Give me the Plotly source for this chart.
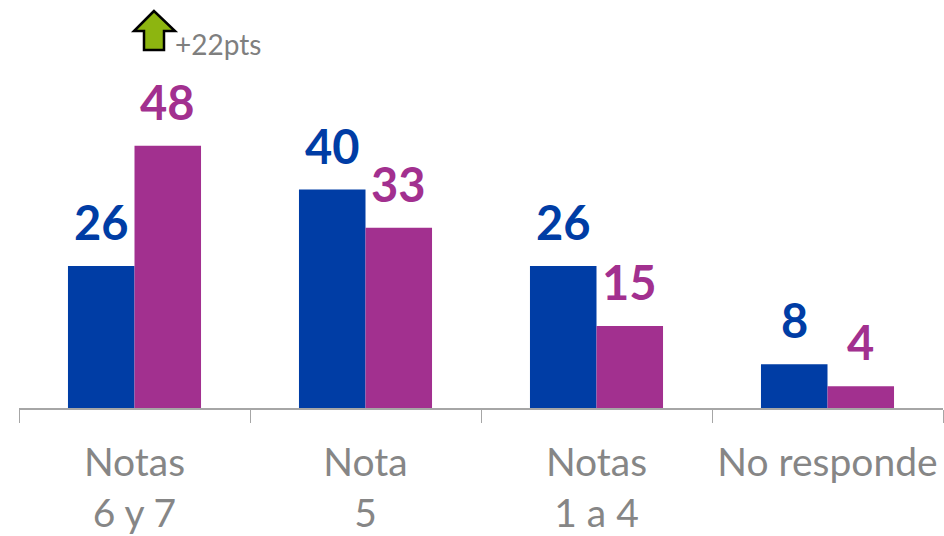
import plotly.graph_objects as go

categories = ["Notas<br>6 y 7", "Nota<br>5", "Notas<br>1 a 4", "No responde"]
series_a = [26, 40, 26, 8]
series_b = [48, 33, 15, 4]
arrow_outline = [(154, 11), (134, 31), (144, 31), (144, 50), (164, 50), (164, 31), (175, 31)]
BLUE = "#003DA5"
PURPLE = "#A2308F"
GREY = "#868686"
W, H = 944, 536
L, R, T, B = 19, 1, 0, 128
BAR_OFFSET = 33
LABEL_LIFT = 14


def px(x):
    return (x - L) / (W - L - R)


def py(y):
    return (H - B - y) / (H - B - T)


fig = go.Figure()
notes = []
for vals, col, sign in ((series_a, BLUE, -1), (series_b, PURPLE, 1)):
    fig.add_bar(x=categories, y=vals, marker=dict(color=col, line_width=0))
    for cat, v in zip(categories, vals):
        notes.append(dict(x=cat, y=v, xref="x", yref="y", text=str(v), showarrow=False,
                          xanchor="center", yanchor="bottom", xshift=sign * BAR_OFFSET, yshift=LABEL_LIFT,
                          font=dict(color=col, size=47, family="Lato", weight="bold")))
notes.append(dict(x=px(173), y=py(44), xref="paper", yref="paper", xanchor="left", yanchor="middle",
                  text="+22pts", showarrow=False,
                  font=dict(size=28, color="#7F7F7F", family="Lato")))
path = "M " + " L ".join(f"{px(a):.5f},{py(b):.5f}" for a, b in arrow_outline) + " Z"
fig.update_layout(
    width=W, height=H, autosize=False, barmode="group", bargap=0.424, bargroupgap=0,
    showlegend=False, plot_bgcolor="white", paper_bgcolor="white",
    margin=dict(l=L, r=R, t=T, b=B, pad=0),
    yaxis=dict(visible=False, range=[0, 74.7], fixedrange=True),
    xaxis=dict(showline=True, linecolor="#A6A6A6", linewidth=2, ticks="outside", ticklen=13,
               tickcolor="#A6A6A6", tickwidth=1, tickson="boundaries", showgrid=False,
               automargin=False, tickangle=0, ticklabelstandoff=19,
               tickfont=dict(color=GREY, size=39, family="Lato")),
    annotations=notes,
    shapes=[dict(type="path", xref="paper", yref="paper", path=path, fillcolor="#8DB510",
                 line=dict(color="black", width=2.5))],
)
fig.write_html("out.html", config={"displayModeBar": False},
               post_script="document.body.style.margin='0';document.body.style.overflow='hidden';")
